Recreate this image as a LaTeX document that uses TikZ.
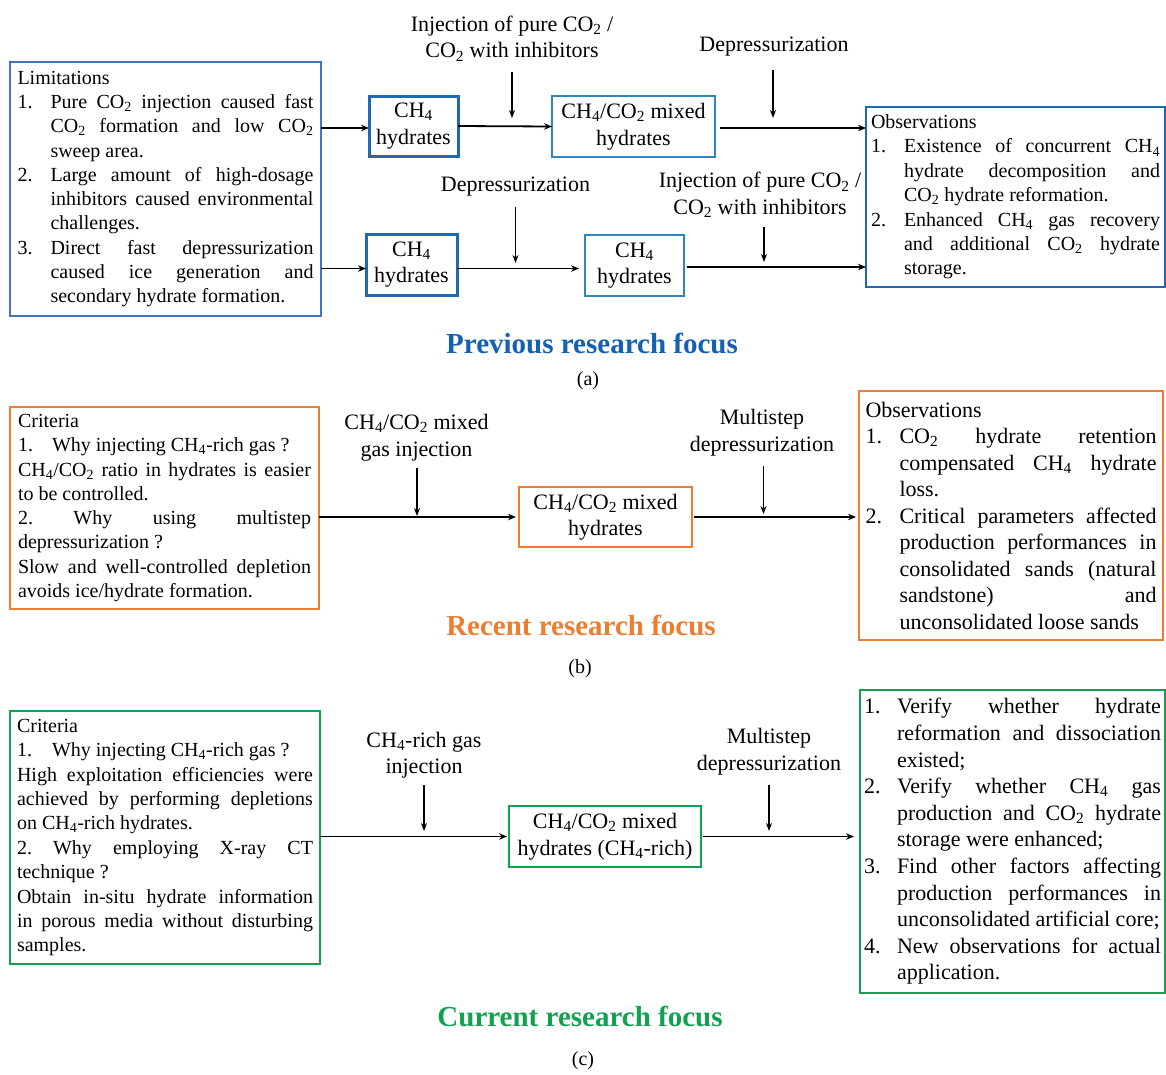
\documentclass[tikz,border=0pt]{standalone}
\usepackage{fontspec}
\setmainfont{Liberation Serif}
\usetikzlibrary{arrows.meta}
\definecolor{limblue}{HTML}{4472C4}
\definecolor{dkblue}{HTML}{1F68B4}
\definecolor{ltblue}{HTML}{2E86C1}
\definecolor{ttlblue}{HTML}{1361B0}
\definecolor{orng}{HTML}{ED7D31}
\definecolor{grn}{HTML}{12A150}
\newcommand{\cotwo}{CO\textsubscript{2}}
\newcommand{\chfour}{CH\textsubscript{4}}
\newcommand{\itm}[2][33pt]{\par\hangindent=#1\hangafter=1\noindent\makebox[#1][l]{#2}\ignorespaces}
\newcommand{\btext}[4]{\parbox{#1}{\fontsize{#2}{#3}\selectfont\frenchspacing\tolerance=10000 \hyphenpenalty=10000 \exhyphenpenalty=10000 \noindent #4}}
\begin{document}
\begin{tikzpicture}[x=1pt,y=-1pt,
  bx/.style={draw, rectangle, inner sep=0pt, outer sep=0pt},
  sbx/.style={draw, rectangle, inner sep=0pt, outer sep=0pt, align=center, font=\fontsize{22}{26.5}\selectfont},
  lbl/.style={font=\fontsize{22}{26.5}\selectfont, align=center, inner sep=0pt},
  harr/.style={-{Stealth[length=8pt,width=6.5pt]}, line width=1.8pt},
  varr/.style={-{Stealth[length=8pt,width=6pt]}, line width=1.5pt},
  ttl/.style={font=\fontsize{29}{34}\selectfont\bfseries, inner sep=0pt},
  sublbl/.style={font=\fontsize{20}{24}\selectfont, inner sep=0pt}]
\useasboundingbox (0,0) rectangle (1166,1074);

% ---------------- panel (a)
\node[bx, draw=limblue, line width=2pt, minimum width=311pt, minimum height=254pt] (lim) at (165.5,189)
 {\btext{296pt}{20}{24.3}{Limitations
 \itm{1.}Pure \cotwo{} injection caused fast\linebreak \cotwo{} formation and low \cotwo\linebreak sweep area.
 \itm{2.}Large amount of high-dosage\linebreak inhibitors caused environmental\linebreak challenges.
 \itm{3.}Direct fast depressurization\linebreak caused ice generation and\linebreak secondary hydrate formation.}};

\node[sbx, draw=dkblue, line width=3pt, minimum width=89pt, minimum height=60pt] (ch4a) at (413.5,126) {\chfour\\hydrates};
\node[sbx, draw=ltblue, line width=1.5pt, minimum width=163pt, minimum height=61pt] (mixa) at (633.5,126.5) {\chfour/\cotwo{} mixed\\hydrates};
\node[bx, draw=dkblue, line width=2.6pt, minimum width=299pt, minimum height=180pt] (obsa) at (1015.5,197)
 {\btext{289pt}{20}{24.4}{Observations
 \itm{1.}Existence of concurrent \chfour\linebreak hydrate decomposition and\linebreak \cotwo{} hydrate reformation.
 \itm{2.}Enhanced \chfour{} gas recovery\linebreak and additional \cotwo{} hydrate\linebreak storage.}};
\node[sbx, draw=dkblue, line width=3pt, minimum width=91pt, minimum height=61pt] (ch4b) at (411.5,264.5) {\chfour\\hydrates};
\node[sbx, draw=ltblue, line width=1.5pt, minimum width=99pt, minimum height=61pt] (ch4c) at (634.5,265.5) {\chfour\\hydrates};

\node[lbl] (inja) at (512,38.5) {Injection of pure \cotwo{} /\\\cotwo{} with inhibitors};
\node[lbl] (depa) at (774,47) {Depressurization};
\node[lbl] (depb) at (515.5,187) {Depressurization};
\node[lbl] (injb) at (760,195) {Injection of pure \cotwo{} /\\\cotwo{} with inhibitors};

\coordinate (ia0) at (512,72);   \coordinate (ia1) at (512,118);
\coordinate (da0) at (773,70);   \coordinate (da1) at (773,118);
\coordinate (db0) at (515.5,207);\coordinate (db1) at (515.5,263);
\coordinate (ib0) at (764,227);  \coordinate (ib1) at (764,262);
\draw[varr] (ia0) -- (ia1);
\draw[varr] (da0) -- (da1);
\draw[varr] (db0) -- (db1);
\draw[varr] (ib0) -- (ib1);

\draw[harr] ([yshift=-2pt]lim.east |- ch4a.west) -- ([yshift=-2pt]ch4a.west);
\draw[harr] (ch4a.east) -- (mixa.west);
\draw[harr, shorten <=5pt] ([yshift=-1.5pt]mixa.east) -- ([yshift=-1.5pt]obsa.west |- mixa.east);
\draw[harr] ([yshift=-4pt]lim.east |- ch4b.west) -- ([yshift=-4pt]ch4b.west);
\draw[harr, line width=1.5pt, shorten >=6pt] ([yshift=-4pt]ch4b.east) -- ([yshift=-4pt]ch4b.east -| ch4c.west);
\draw[harr, line width=1.5pt, shorten <=3pt] ([yshift=-1.5pt]ch4c.east) -- ([yshift=-1.5pt]obsa.west |- ch4c.east);

\node[ttl, text=ttlblue] (ttla) at (592,343) {Previous research focus};
\node[sublbl] (capa) at (588,381) {(a)};

% ---------------- panel (b)
\node[bx, draw=orng, line width=2pt, minimum width=309pt, minimum height=202pt] (critb) at (164.5,508)
 {\btext{293pt}{20}{24.3}{Criteria\par
 \noindent\makebox[34pt][l]{1.}Why injecting \chfour-rich gas ?\par
 \noindent\chfour/\cotwo{} ratio in hydrates is easier\linebreak to be controlled.\par
 \noindent 2. Why using multistep\linebreak depressurization ?\par
 \noindent Slow and well-controlled depletion\linebreak avoids ice/hydrate formation.}};
\node[sbx, draw=orng, line width=2pt, minimum width=173pt, minimum height=60pt] (mixb) at (605.5,517) {\chfour/\cotwo{} mixed\\hydrates};
\node[bx, draw=orng, line width=2pt, minimum width=304pt, minimum height=249pt] (obsb) at (1011,515.5)
 {\btext{291pt}{22}{26.5}{Observations
 \itm[34pt]{1.}\cotwo{} hydrate retention\linebreak compensated \chfour{} hydrate\linebreak loss.
 \itm[34pt]{2.}Critical parameters affected\linebreak production performances in\linebreak consolidated sands (natural\linebreak sandstone) and\linebreak unconsolidated loose sands}};

\node[lbl] (injbb) at (416.5,437.5) {\chfour/\cotwo{} mixed\\gas injection};
\node[lbl] (depbb) at (762,432.5) {Multistep\\depressurization};
\coordinate (ibb0) at (417,468);   \coordinate (ibb1) at (417,516);
\coordinate (dbb0) at (763.5,466); \coordinate (dbb1) at (763.5,514);
\draw[varr] (ibb0) -- (ibb1);
\draw[varr] (dbb0) -- (dbb1);
\draw[harr, shorten >=3pt] (critb.east |- mixb.west) -- (mixb.west);
\draw[harr, shorten <=2pt, shorten >=3pt] (mixb.east) -- (obsb.west |- mixb.east);

\node[ttl, text=orng] (ttlb) at (581,625) {Recent research focus};
\node[sublbl] (capb) at (580,669) {(b)};

% ---------------- panel (c)
\node[bx, draw=grn, line width=2.2pt, minimum width=310pt, minimum height=253pt] (critc) at (165,837.5)
 {\btext{296pt}{20}{24.4}{Criteria\par
 \noindent\makebox[35pt][l]{1.}Why injecting \chfour-rich gas ?\par
 \noindent High exploitation efficiencies were\linebreak achieved by performing depletions\linebreak on \chfour-rich hydrates.\par
 \noindent 2. Why employing X-ray CT\linebreak technique ?\par
 \noindent Obtain in-situ hydrate information\linebreak in porous media without disturbing\linebreak samples.}};
\node[sbx, draw=grn, line width=2.2pt, minimum width=192pt, minimum height=61pt] (mixc) at (605,836.5) {\chfour/\cotwo{} mixed\\hydrates (\chfour-rich)};
\node[bx, draw=grn, line width=2.2pt, minimum width=305pt, minimum height=303pt] (obsc) at (1012.5,841.5)
 {\btext{297pt}{22}{26.6}{%
 \itm{1.}Verify whether hydrate\linebreak reformation and dissociation\linebreak existed;
 \itm{2.}Verify whether \chfour{} gas\linebreak production and \cotwo{} hydrate\linebreak storage were enhanced;
 \itm{3.}Find other factors affecting\linebreak production performances in\linebreak unconsolidated artificial core;
 \itm{4.}New observations for actual\linebreak application.}};

\node[lbl] (injc) at (424,755) {\chfour-rich gas\\injection};
\node[lbl] (depc) at (769,751.5) {Multistep\\depressurization};
\coordinate (ic0) at (424,785); \coordinate (ic1) at (424,831);
\coordinate (dc0) at (769,785); \coordinate (dc1) at (769,831);
\draw[varr] (ic0) -- (ic1);
\draw[varr] (dc0) -- (dc1);
\draw[harr, shorten >=2pt] (critc.east |- mixc.west) -- (mixc.west);
\draw[harr, shorten <=2pt, shorten >=6pt] (mixc.east) -- (obsc.west |- mixc.east);

\node[ttl, text=grn] (ttlc) at (580,1016) {Current research focus};
\node[sublbl] (capc) at (583,1061) {(c)};
\end{tikzpicture}
\end{document}
